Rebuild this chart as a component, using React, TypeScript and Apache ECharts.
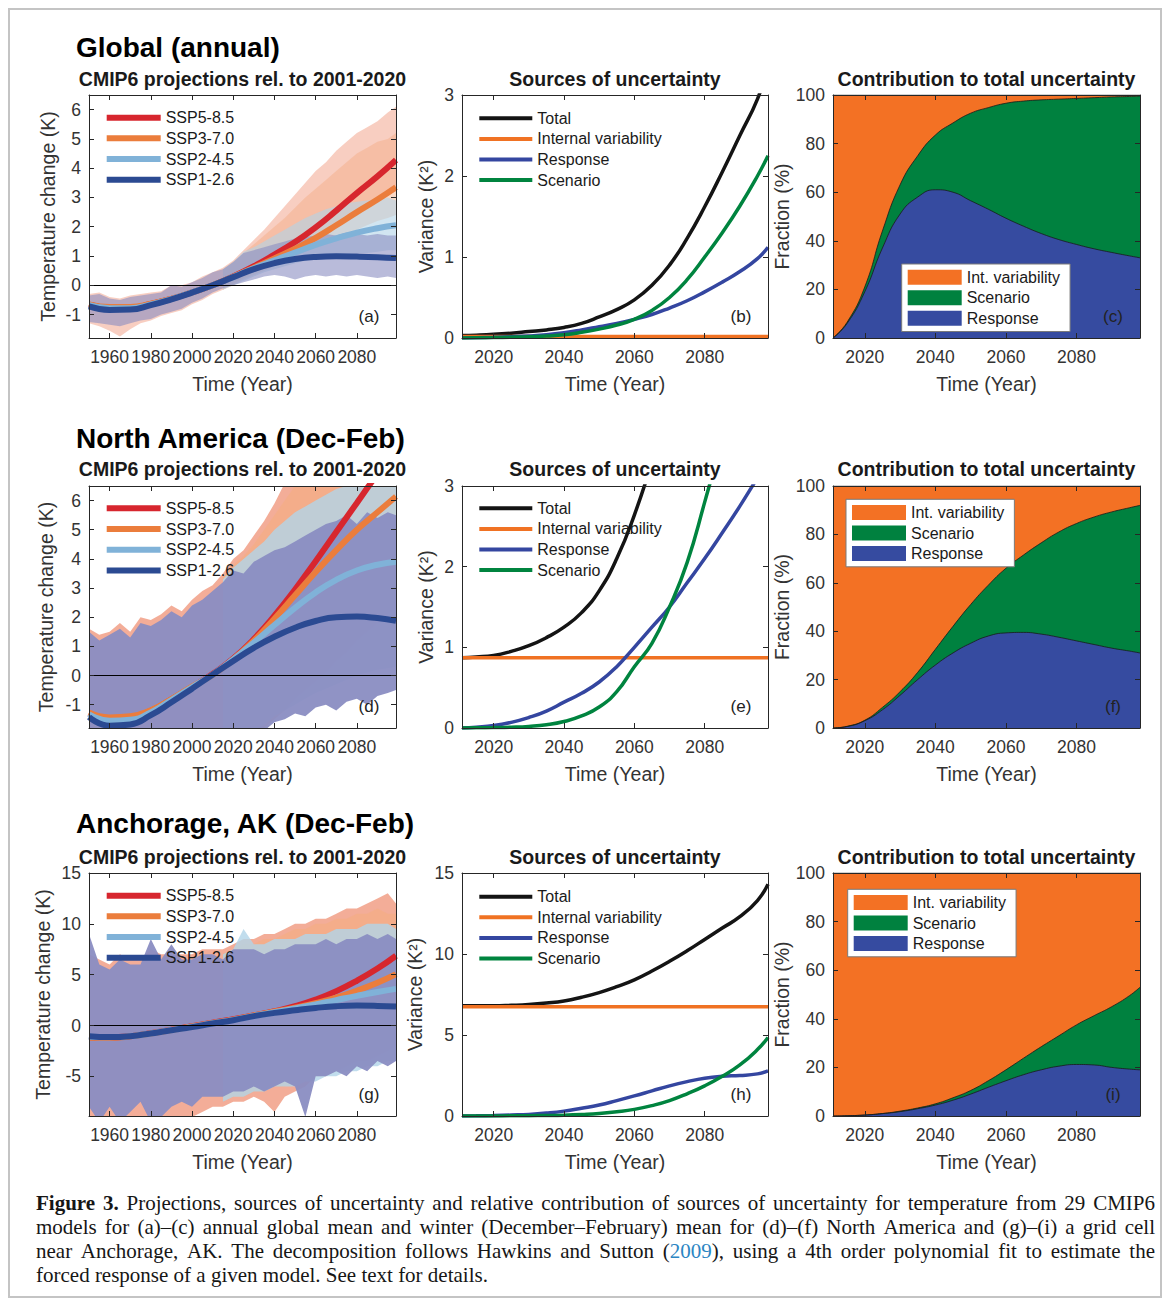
import React, { useEffect, useRef } from 'react';
import * as echarts from 'echarts';

// ---------------- Data ----------------
const ALL_YEARS = [1950, 1955, 1960, 1965, 1970, 1975, 1980, 1985, 1990, 1995, 2000, 2005, 2010, 2015, 2020, 2025, 2030, 2035, 2040, 2045, 2050, 2055, 2060, 2065, 2070, 2075, 2080, 2085, 2090, 2095, 2099];
const FUT_YEARS = [2015, 2020, 2025, 2030, 2035, 2040, 2045, 2050, 2055, 2060, 2065, 2070, 2075, 2080, 2085, 2090, 2095, 2099];
const FIT_YEARS = [1950, 1960, 1970, 1980, 1990, 2000, 2010, 2020, 2030, 2040, 2050, 2060, 2070, 2080, 2090, 2099];
const UNC_YEARS = [2011, 2015, 2020, 2025, 2030, 2035, 2040, 2045, 2050, 2055, 2060, 2065, 2070, 2075, 2080, 2085, 2090, 2095, 2098];

const SSP_NAMES = ['SSP5-8.5', 'SSP3-7.0', 'SSP2-4.5', 'SSP1-2.6'];
const UNC_NAMES = ['Total', 'Internal variability', 'Response', 'Scenario'];
const FRAC_NAMES = ['Int. variability', 'Scenario', 'Response'];
const ROW_TITLES = ['Global (annual)', 'North America (Dec-Feb)', 'Anchorage, AK (Dec-Feb)'];
const COL_TITLES = ['CMIP6 projections rel. to 2001-2020', 'Sources of uncertainty', 'Contribution to total uncertainty'];
const PANEL_TAGS = ['(a)', '(b)', '(c)', '(d)', '(e)', '(f)', '(g)', '(h)', '(i)'];
const X_NAME = 'Time (Year)';
const Y_NAMES = ['Temperature change (K)', 'Variance (K²)', 'Fraction (%)'];
const CAPTION_LINES = [
  'Figure 3. Projections, sources of uncertainty and relative contribution of sources of uncertainty for temperature from 29 CMIP6',
  'models for (a)–(c) annual global mean and winter (December–February) mean for (d)–(f) North America and (g)–(i) a grid cell',
  'near Anchorage, AK. The decomposition follows Hawkins and Sutton (2009), using a 4th order polynomial fit to estimate the',
  'forced response of a given model. See text for details.',
];
const CAPTION_BOLD_WORDS = 2; // "Figure 3."
const CAPTION_LINK = '2009';

// (a) Global annual: model spread envelopes
const A_SSP5_HI = [-0.3, -0.25, -0.4, -0.45, -0.35, -0.3, -0.25, -0.2, 0.0, 0.0, 0.1, 0.3, 0.45, 0.6, 0.85, 1.2, 1.55, 1.9, 2.3, 2.7, 3.1, 3.5, 3.9, 4.2, 4.6, 4.9, 5.2, 5.4, 5.6, 5.9, 6.1];
const A_SSP5_LO = [-1.3, -1.4, -1.55, -1.75, -1.5, -1.3, -1.2, -1.05, -0.95, -0.85, -0.65, -0.5, -0.3, -0.15, 0.05, 0.25, 0.45, 0.6, 0.8, 1.0, 1.2, 1.45, 1.7, 1.9, 2.1, 2.35, 2.55, 2.75, 2.9, 3.1, 3.2];
const A_SSP3_HI = [0.55, 0.8, 1.1, 1.4, 1.7, 2.0, 2.3, 2.65, 3.0, 3.3, 3.6, 3.9, 4.2, 4.5, 4.7, 4.9, 5.0, 5.2];
const A_SSP3_LO = [-0.15, 0.0, 0.2, 0.35, 0.5, 0.65, 0.8, 1.0, 1.15, 1.3, 1.45, 1.6, 1.75, 1.9, 2.05, 2.2, 2.3, 2.4];
const A_SSP2_HI = [0.55, 0.8, 1.15, 1.3, 1.5, 1.7, 1.9, 2.1, 2.3, 2.45, 2.6, 2.7, 2.8, 2.85, 2.9, 2.95, 3.0, 2.9];
const A_SSP2_LO = [-0.15, 0.0, 0.15, 0.3, 0.45, 0.55, 0.65, 0.75, 0.85, 0.9, 0.95, 1.0, 1.05, 1.1, 1.1, 1.15, 1.2, 1.2];
const A_SSP1_HI = [-0.35, -0.3, -0.45, -0.5, -0.4, -0.35, -0.3, -0.25, 0.0, -0.05, 0.1, 0.25, 0.45, 0.55, 0.8, 1.1, 1.2, 1.3, 1.4, 1.5, 1.6, 1.65, 1.7, 1.75, 1.7, 1.8, 1.75, 1.7, 1.75, 1.7, 1.7];
const A_SSP1_LO = [-1.25, -1.3, -1.35, -1.4, -1.3, -1.2, -1.15, -1.0, -0.9, -0.8, -0.6, -0.45, -0.25, -0.1, 0.0, 0.1, 0.2, 0.3, 0.35, 0.3, 0.2, 0.3, 0.35, 0.3, 0.35, 0.3, 0.35, 0.3, 0.25, 0.3, 0.25];
// (a) polynomial fits (thick lines)
const A_FIT_SSP5 = [-0.66, -0.76, -0.76, -0.64, -0.46, -0.24, 0.0, 0.3, 0.65, 1.05, 1.48, 1.98, 2.55, 3.15, 3.72, 4.28];
const A_FIT_SSP3 = [-0.65, -0.74, -0.74, -0.63, -0.46, -0.24, 0.0, 0.29, 0.6, 0.92, 1.25, 1.62, 2.05, 2.5, 2.93, 3.35];
const A_FIT_SSP2 = [-0.68, -0.78, -0.78, -0.65, -0.47, -0.24, 0.0, 0.28, 0.58, 0.85, 1.12, 1.38, 1.6, 1.8, 1.95, 2.05];
const A_FIT_SSP1 = [-0.72, -0.84, -0.83, -0.68, -0.48, -0.25, 0.0, 0.28, 0.55, 0.76, 0.9, 0.97, 0.99, 0.98, 0.96, 0.93];

// (d) North America DJF
const D_SSP5_HI = [1.6, 1.4, 1.5, 1.8, 1.5, 2.0, 1.9, 2.1, 2.4, 2.2, 2.6, 2.9, 3.1, 3.5, 4.0, 4.3, 4.8, 5.3, 5.9, 6.6, 7.2, 7.6, 8.0, 8.4, 8.8, 9.2, 9.6, 10.0, 10.4, 10.8, 11.0];
const D_SSP5_LO = [-2.6, -2.7, -2.6, -2.8, -2.6, -2.5, -2.7, -2.6, -2.5, -2.6, -2.5, -2.4, -2.5, -2.6, -2.5, -2.3, -2.0, -1.7, -1.3, -0.9, -0.5, -0.2, 0.2, 0.5, 0.9, 1.3, 1.6, 2.0, 2.3, 2.6, 2.8];
const D_SSP3_HI = [3.4, 3.8, 4.1, 4.5, 5.0, 5.5, 6.0, 6.5, 7.0, 7.4, 7.8, 8.2, 8.6, 9.0, 9.3, 9.6, 9.9, 10.1];
const D_SSP3_LO = [-2.6, -2.5, -2.3, -2.0, -1.8, -1.5, -1.2, -0.8, -0.5, -0.2, 0.1, 0.5, 0.8, 1.2, 1.5, 1.8, 2.1, 2.3];
const D_SSP2_HI = [3.3, 3.7, 4.0, 4.3, 4.6, 5.0, 5.3, 5.6, 5.8, 6.0, 6.2, 6.4, 6.5, 6.6, 6.7, 6.8, 6.8, 6.9];
const D_SSP2_LO = [-2.6, -2.5, -2.3, -2.0, -1.7, -1.4, -1.2, -1.0, -0.8, -0.6, -0.45, -0.3, -0.15, 0.0, 0.1, 0.2, 0.25, 0.3];
const D_SSP1_HI = [1.5, 1.2, 1.4, 1.6, 1.3, 1.8, 1.7, 1.9, 2.2, 2.0, 2.4, 2.6, 2.9, 3.2, 3.6, 3.5, 3.9, 4.1, 4.3, 4.4, 4.6, 4.8, 5.0, 5.2, 5.3, 5.5, 5.2, 5.6, 5.4, 5.6, 5.5];
const D_SSP1_LO = [-2.6, -2.6, -2.7, -2.6, -2.5, -2.6, -2.5, -2.4, -2.5, -2.4, -2.3, -2.3, -2.2, -2.2, -2.1, -2.0, -2.0, -1.9, -1.6, -1.5, -1.3, -1.4, -1.1, -1.0, -1.2, -0.9, -0.8, -1.0, -0.7, -0.6, -0.5];
const D_FIT_SSP5 = [-1.3, -1.48, -1.44, -1.21, -0.82, -0.4, 0.05, 0.58, 1.25, 2.05, 2.95, 3.92, 4.92, 5.92, 6.92, 7.8];
const D_FIT_SSP3 = [-1.27, -1.44, -1.4, -1.19, -0.81, -0.38, 0.02, 0.56, 1.2, 1.95, 2.75, 3.55, 4.3, 5.0, 5.6, 6.14];
const D_FIT_SSP2 = [-1.33, -1.55, -1.52, -1.27, -0.84, -0.4, 0.03, 0.55, 1.13, 1.73, 2.32, 2.85, 3.28, 3.6, 3.8, 3.9];
const D_FIT_SSP1 = [-1.42, -1.72, -1.68, -1.36, -0.92, -0.45, 0.03, 0.5, 0.95, 1.33, 1.64, 1.87, 2.0, 2.02, 1.97, 1.88];

// (g) Anchorage DJF
const G_SSP5_HI = [7.0, 6.5, 6.0, 7.0, 6.5, 6.5, 7.5, 7.0, 7.0, 7.0, 7.0, 7.5, 7.5, 7.5, 8.0, 8.5, 8.5, 9.0, 9.0, 9.5, 10.0, 10.0, 10.5, 10.5, 11.0, 11.5, 11.5, 12.0, 12.5, 13.0, 12.0];
const G_SSP5_LO = [-9.5, -10, -9.5, -10, -10, -9.5, -10, -9.5, -9.0, -9.5, -9.0, -8.5, -8.0, -8.0, -7.5, -7.5, -7.0, -7.5, -8.5, -7.0, -6.5, -6.0, -5.0, -4.5, -4.0, -3.5, -3.0, -2.5, -2.0, -1.5, -1.0];
const G_SSP3_HI = [7.0, 7.5, 8.0, 8.0, 8.5, 8.5, 9.0, 9.5, 9.5, 10.0, 10.0, 10.5, 10.5, 11.0, 11.0, 11.5, 11.0, 11.0];
const G_SSP3_LO = [-7.5, -7.0, -7.0, -6.5, -6.5, -6.0, -6.0, -5.5, -5.5, -5.0, -5.0, -4.5, -4.0, -3.5, -3.5, -3.0, -2.5, -2.0];
const G_SSP2_HI = [7.0, 7.5, 9.5, 8.0, 8.0, 8.5, 8.5, 8.5, 9.0, 9.0, 9.0, 9.5, 9.5, 9.5, 10.0, 10.0, 10.0, 9.5];
const G_SSP2_LO = [-7.5, -7.0, -7.0, -6.5, -6.5, -6.0, -6.0, -6.0, -5.5, -5.5, -5.0, -5.0, -4.5, -4.5, -4.0, -4.0, -3.5, -3.5];
const G_SSP1_HI = [9.0, 6.0, 5.5, 6.5, 6.0, 6.0, 8.5, 6.5, 8.0, 6.5, 6.5, 7.0, 7.0, 6.5, 7.5, 7.5, 7.5, 7.0, 7.5, 7.5, 8.0, 8.0, 8.0, 8.5, 8.0, 8.5, 8.5, 9.0, 8.5, 9.0, 8.5];
const G_SSP1_LO = [-8.0, -9.5, -8.0, -9.5, -8.5, -7.5, -9.5, -9.0, -8.0, -7.5, -8.0, -7.0, -7.0, -7.0, -6.5, -6.5, -6.0, -6.5, -6.0, -5.5, -6.0, -9.0, -5.0, -5.0, -4.5, -5.0, -4.0, -4.5, -3.5, -4.0, -3.5];
const G_FIT_SSP5 = [-1.15, -1.17, -1.05, -0.76, -0.42, -0.08, 0.27, 0.62, 1.0, 1.4, 1.9, 2.55, 3.38, 4.4, 5.6, 6.86];
const G_FIT_SSP3 = [-1.2, -1.2, -1.07, -0.78, -0.44, -0.1, 0.24, 0.58, 1.0, 1.38, 1.75, 2.2, 2.75, 3.42, 4.2, 5.05];
const G_FIT_SSP2 = [-1.1, -1.15, -1.05, -0.78, -0.45, -0.13, 0.22, 0.55, 0.95, 1.3, 1.68, 2.07, 2.5, 2.92, 3.3, 3.6];
const G_FIT_SSP1 = [-1.05, -1.14, -1.05, -0.78, -0.46, -0.16, 0.2, 0.52, 0.92, 1.24, 1.5, 1.73, 1.9, 1.96, 1.93, 1.86];

// (b) (e) (h) variance components
const B_TOTAL = [0.03, 0.035, 0.045, 0.06, 0.08, 0.1, 0.13, 0.18, 0.26, 0.35, 0.47, 0.65, 0.9, 1.23, 1.62, 2.05, 2.5, 2.95, 3.35];
const B_INTERNAL = [0.02, 0.02, 0.02, 0.02, 0.02, 0.02, 0.02, 0.02, 0.02, 0.02, 0.02, 0.02, 0.02, 0.02, 0.02, 0.02, 0.02, 0.02, 0.02];
const B_RESPONSE = [0, 0.003, 0.008, 0.015, 0.025, 0.04, 0.065, 0.1, 0.14, 0.18, 0.23, 0.29, 0.37, 0.46, 0.57, 0.69, 0.82, 0.98, 1.12];
const B_SCENARIO = [0, 0.002, 0.005, 0.01, 0.015, 0.025, 0.04, 0.07, 0.11, 0.16, 0.23, 0.34, 0.5, 0.72, 1.0, 1.3, 1.63, 2.0, 2.25];

const E_TOTAL = [0.87, 0.88, 0.9, 0.95, 1.02, 1.12, 1.25, 1.43, 1.7, 2.1, 2.64, 3.3, 4.1, 5.0, 6.0, 7.1, 8.3, 9.6, 10.4];
const E_INTERNAL = [0.87, 0.87, 0.87, 0.87, 0.87, 0.87, 0.87, 0.87, 0.87, 0.87, 0.87, 0.87, 0.87, 0.87, 0.87, 0.87, 0.87, 0.87, 0.87];
const E_RESPONSE = [0, 0.01, 0.03, 0.07, 0.13, 0.21, 0.32, 0.43, 0.57, 0.76, 1.0, 1.25, 1.5, 1.8, 2.1, 2.42, 2.75, 3.1, 3.3];
const E_SCENARIO = [0, 0.002, 0.005, 0.01, 0.02, 0.04, 0.08, 0.15, 0.26, 0.45, 0.76, 1.05, 1.5, 2.05, 2.8, 3.6, 4.5, 5.5, 6.1];

const H_TOTAL = [6.8, 6.8, 6.8, 6.83, 6.88, 6.97, 7.1, 7.33, 7.62, 7.98, 8.4, 8.95, 9.55, 10.2, 10.9, 11.6, 12.3, 13.3, 14.3];
const H_INTERNAL = [6.75, 6.75, 6.75, 6.75, 6.75, 6.75, 6.75, 6.75, 6.75, 6.75, 6.75, 6.75, 6.75, 6.75, 6.75, 6.75, 6.75, 6.75, 6.75];
const H_RESPONSE = [0, 0.01, 0.03, 0.06, 0.1, 0.18, 0.3, 0.48, 0.68, 0.95, 1.24, 1.55, 1.86, 2.12, 2.33, 2.45, 2.5, 2.6, 2.78];
const H_SCENARIO = [0, 0.002, 0.005, 0.01, 0.02, 0.03, 0.05, 0.09, 0.15, 0.26, 0.41, 0.64, 0.95, 1.37, 1.86, 2.45, 3.15, 4.1, 4.85];

// (c) (f) (i) fractional contributions (%)
const C_RESPONSE = [0, 6, 19, 37, 51, 58, 61, 60, 56.5, 53, 49.3, 46, 43, 40.5, 38.5, 36.7, 35.2, 33.8, 33];
const C_SCENARIO = [0, 0.5, 2, 7, 12, 17, 22.5, 28.5, 36, 41.8, 47.3, 51.5, 55, 57.8, 60.1, 62.2, 64, 65.6, 66.6];
const C_INTERNAL = [100, 93.5, 79, 56, 37, 25, 16.5, 11.5, 7.5, 5.2, 3.4, 2.5, 2, 1.7, 1.4, 1.1, 0.8, 0.6, 0.4];

const F_RESPONSE = [0, 0.6, 3, 7.5, 13.5, 20, 26, 31, 35, 38, 39.3, 39.5, 38.8, 37.5, 36, 34.5, 33, 31.8, 31];
const F_SCENARIO = [0, 0.1, 0.2, 1, 1.5, 3, 6.5, 11, 16, 21, 26.7, 32, 37.7, 43.5, 48.5, 52.7, 56.3, 59.2, 61];
const F_INTERNAL = [100, 99.3, 96.8, 91.5, 85, 77, 67.5, 58, 49, 41, 34, 28.5, 23.5, 19, 15.5, 12.8, 10.7, 9, 8];

const I_RESPONSE = [0, 0.1, 0.4, 1, 1.8, 3, 4.5, 6.5, 9, 11.8, 14.5, 17, 19, 20.5, 21.2, 21, 20, 19.3, 19];
const I_SCENARIO = [0, 0, 0, 0, 0.2, 0.3, 0.5, 1, 1.5, 2.7, 4.5, 6.8, 9.5, 12.5, 16.3, 20.3, 25, 30.2, 34];
const I_INTERNAL = [100, 99.9, 99.6, 99, 98, 96.7, 95, 92.5, 89.5, 85.5, 81, 76.2, 71.5, 67, 62.5, 58.7, 55, 50.5, 47];

// ---------------- Styles / layout ----------------
const SANS = "'Liberation Sans', Arial, Helvetica, sans-serif";
const SERIF_NAME = 'Liberation Serif';
const SERIF = "'Liberation Serif', 'Times New Roman', serif";
const AXIS_COLOR = '#262626';
const TEXT_COLOR = '#333333';
const FIT_COLORS = ['#d7262e', '#eb7d3c', '#80b2d8', '#2b4a92'];
const BAND_COLORS = ['#ee8a6c', '#f4ad86', '#b2d4e8', '#8a8dc2'];
const UNC_COLORS = ['#141414', '#f07223', '#3446a0', '#00843f'];
const FRAC_COLORS = ['#f37124', '#00813f', '#364ba0'];
const LINK_COLOR = '#2b86c3';

const COL_X = [89, 462, 833];
const COL_W = [307, 306, 307];
const ROW_Y = [95, 486, 873];
const ROW_H = [243, 242, 243];
const ROW_TITLE_Y = [47, 438, 823];
const SUB_Y = [79, 469, 857];
const CAP_LEFT = 36;
const CAP_RIGHT = 1155;
const CAP_TOP = 1203;
const CAP_LINE_H = 24;
const CAP_SIZE = 21;

function pairs(xs: number[], ys: number[]) {
  return xs.map((x, i) => [x, ys[i]]);
}
function addArr(a: number[], b: number[]) {
  return a.map((v, i) => +(v + b[i]).toFixed(4));
}
const ax = (gi: number) => ({ xAxisIndex: gi * 2, yAxisIndex: gi * 2 });

function bandSeries(gi: number, key: string, years: number[], lo: number[], hi: number[], color: string, opacity: number) {
  return {
    type: 'custom',
    ...ax(gi),
    name: key,
    clip: true,
    silent: true,
    z: 2,
    data: years.map((y, i) => [y, lo[i], hi[i]]),
    encode: { x: 0, y: [1, 2] },
    renderItem: (params: any, api: any) => {
      if (params.dataIndex !== 0) return null;
      const upper = years.map((y, i) => api.coord([y, hi[i]]));
      const lower = years.map((y, i) => api.coord([y, lo[i]])).reverse();
      return {
        type: 'polygon',
        shape: { points: upper.concat(lower) },
        style: { fill: color, opacity },
      };
    },
  };
}

function captionElements() {
  const els: any[] = [];
  let ctx: CanvasRenderingContext2D | null = null;
  try {
    ctx = document.createElement('canvas').getContext('2d');
  } catch (e) {
    ctx = null;
  }
  const measure = (t: string, bold: boolean) => {
    if (!ctx) return t.length * CAP_SIZE * 0.45;
    ctx.font = `${bold ? 'bold ' : ''}${CAP_SIZE}px "${SERIF_NAME}"`;
    return ctx.measureText(t).width;
  };
  CAPTION_LINES.forEach((line, li) => {
    const y = CAP_TOP + li * CAP_LINE_H;
    const words = line.split(' ');
    const bolds = words.map((_, wi) => li === 0 && wi < CAPTION_BOLD_WORDS);
    const widths = words.map((w, wi) => measure(w, bolds[wi]));
    const total = widths.reduce((s, v) => s + v, 0);
    const justify = li < CAPTION_LINES.length - 1;
    const gap = justify ? (CAP_RIGHT - CAP_LEFT - total) / (words.length - 1) : measure(' ', false);
    let x = CAP_LEFT;
    words.forEach((w, wi) => {
      let text = w;
      const rich: any = {};
      if (w.includes(CAPTION_LINK)) {
        text = w.replace(CAPTION_LINK, `{l|${CAPTION_LINK}}`);
        rich.l = { fontSize: CAP_SIZE, fontFamily: SERIF, fill: LINK_COLOR };
      }
      els.push({
        type: 'text', x, y, z: 100, silent: true,
        style: {
          text, rich, fontSize: CAP_SIZE, fontFamily: SERIF, fontWeight: bolds[wi] ? 'bold' : 'normal',
          fill: '#161616', align: 'left', verticalAlign: 'middle',
        },
      });
      x += widths[wi] + gap;
    });
  });
  return els;
}

function buildOption() {
  const grid: any[] = [];
  const xAxis: any[] = [];
  const yAxis: any[] = [];
  const series: any[] = [];
  const legend: any[] = [];
  const graphic: any[] = [];

  const lineStyle = { color: AXIS_COLOR, width: 1 };
  const labelBase = { fontSize: 17.5, color: TEXT_COLOR, fontFamily: SANS };
  const nameStyle = { fontSize: 19.5, color: TEXT_COLOR, fontFamily: SANS };
  const plain = (v: number) => String(v);

  const xSpecs = [
    { min: 1950, max: 2099, split: 7 },
    { min: 2011, max: 2098, split: 4 },
    { min: 2011, max: 2098, split: 4 },
  ];
  const ySpecs: any[][] = [
    [
      { min: -1.8, max: 6.5, split: 8, hideMin: true, hideMax: true, gap: 31 },
      { min: 0, max: 3, interval: 1, gap: 26 },
      { min: 0, max: 100, interval: 20, gap: 33.5 },
    ],
    [
      { min: -1.8, max: 6.5, split: 8, hideMin: true, hideMax: true, gap: 33 },
      { min: 0, max: 3, interval: 1, gap: 26 },
      { min: 0, max: 100, interval: 20, gap: 33.5 },
    ],
    [
      { min: -8.9, max: 15, split: 5, hideMin: true, hideMax: false, gap: 36 },
      { min: 0, max: 15, interval: 5, gap: 37.5 },
      { min: 0, max: 100, interval: 20, gap: 33.5 },
    ],
  ];

  for (let r = 0; r < 3; r++) {
    for (let c = 0; c < 3; c++) {
      const gi = r * 3 + c;
      grid.push({ left: COL_X[c], top: ROW_Y[r], width: COL_W[c], height: ROW_H[r], containLabel: false });
      const common = {
        type: 'value',
        gridIndex: gi,
        splitLine: { show: false },
        axisLine: { show: true, onZero: false, lineStyle },
        axisTick: { show: true, inside: true, length: 5, lineStyle },
        z: 10,
        silent: true,
      };
      const xs = xSpecs[c];
      const xBase = { ...common, min: xs.min, max: xs.max, splitNumber: xs.split };
      xAxis.push({
        ...xBase,
        position: 'bottom',
        axisLabel: { ...labelBase, margin: 10, showMinLabel: false, showMaxLabel: false, formatter: plain },
        name: X_NAME,
        nameLocation: 'middle',
        nameGap: 36,
        nameTextStyle: nameStyle,
      });
      xAxis.push({ ...xBase, position: 'top', axisLabel: { show: false } });
      const ys = ySpecs[r][c];
      const yBase: any = { ...common, min: ys.min, max: ys.max };
      if (ys.interval) yBase.interval = ys.interval;
      else yBase.splitNumber = ys.split;
      yAxis.push({
        ...yBase,
        position: 'left',
        axisLabel: {
          ...labelBase,
          margin: 8,
          formatter: plain,
          showMinLabel: ys.hideMin ? false : true,
          showMaxLabel: ys.hideMax ? false : true,
        },
        name: Y_NAMES[c],
        nameLocation: 'middle',
        nameGap: ys.gap,
        nameTextStyle: nameStyle,
      });
      yAxis.push({ ...yBase, position: 'right', axisLabel: { show: false } });
    }
  }

  // ---- projection panels (a, d, g)
  const proj = [
    {
      gi: 0,
      bands: [[ALL_YEARS, A_SSP5_LO, A_SSP5_HI], [FUT_YEARS, A_SSP3_LO, A_SSP3_HI], [FUT_YEARS, A_SSP2_LO, A_SSP2_HI], [ALL_YEARS, A_SSP1_LO, A_SSP1_HI]],
      fits: [A_FIT_SSP5, A_FIT_SSP3, A_FIT_SSP2, A_FIT_SSP1],
      opac: [0.42, 0.48, 0.6, 0.6],
    },
    {
      gi: 3,
      bands: [[ALL_YEARS, D_SSP5_LO, D_SSP5_HI], [FUT_YEARS, D_SSP3_LO, D_SSP3_HI], [FUT_YEARS, D_SSP2_LO, D_SSP2_HI], [ALL_YEARS, D_SSP1_LO, D_SSP1_HI]],
      fits: [D_FIT_SSP5, D_FIT_SSP3, D_FIT_SSP2, D_FIT_SSP1],
      opac: [0.7, 0.75, 0.8, 0.95],
    },
    {
      gi: 6,
      bands: [[ALL_YEARS, G_SSP5_LO, G_SSP5_HI], [FUT_YEARS, G_SSP3_LO, G_SSP3_HI], [FUT_YEARS, G_SSP2_LO, G_SSP2_HI], [ALL_YEARS, G_SSP1_LO, G_SSP1_HI]],
      fits: [G_FIT_SSP5, G_FIT_SSP3, G_FIT_SSP2, G_FIT_SSP1],
      opac: [0.7, 0.75, 0.8, 0.95],
    },
  ];
  proj.forEach((p) => {
    p.bands.forEach((b: any, k: number) => {
      const [years, lo, hi] = b;
      series.push(bandSeries(p.gi, `spread-${p.gi}-${k}`, years, lo, hi, BAND_COLORS[k], p.opac[k]));
    });
    p.fits.forEach((vals, k) => {
      const s: any = {
        type: 'line', ...ax(p.gi), name: SSP_NAMES[k], data: pairs(FIT_YEARS, vals), smooth: 0.5,
        symbol: 'none', silent: true, lineStyle: { color: FIT_COLORS[k], width: 6 }, itemStyle: { color: FIT_COLORS[k] }, z: 3,
      };
      if (k === 0) {
        s.markLine = {
          silent: true, symbol: ['none', 'none'], label: { show: false },
          lineStyle: { color: '#000', width: 1, type: 'solid', opacity: 1 },
          data: [{ yAxis: 0 }],
        };
      }
      series.push(s);
    });
  });

  // ---- uncertainty sources panels (b, e, h)
  const unc = [
    { gi: 1, vals: [B_TOTAL, B_INTERNAL, B_RESPONSE, B_SCENARIO] },
    { gi: 4, vals: [E_TOTAL, E_INTERNAL, E_RESPONSE, E_SCENARIO] },
    { gi: 7, vals: [H_TOTAL, H_INTERNAL, H_RESPONSE, H_SCENARIO] },
  ];
  unc.forEach((p) => {
    p.vals.forEach((vals, k) => {
      series.push({
        type: 'line', ...ax(p.gi), name: UNC_NAMES[k], data: pairs(UNC_YEARS, vals), smooth: 0.5,
        symbol: 'none', silent: true, lineStyle: { color: UNC_COLORS[k], width: 3.5 }, itemStyle: { color: UNC_COLORS[k] }, z: 3,
      });
    });
  });

  // ---- fractional contribution panels (c, f, i): cumulative layers drawn back to front
  const frac = [
    { gi: 2, vals: [C_INTERNAL, C_SCENARIO, C_RESPONSE] },
    { gi: 5, vals: [F_INTERNAL, F_SCENARIO, F_RESPONSE] },
    { gi: 8, vals: [I_INTERNAL, I_SCENARIO, I_RESPONSE] },
  ];
  frac.forEach((p) => {
    const [internal, scenario, response] = p.vals;
    const respTop = response;
    const scenTop = addArr(response, scenario);
    const intTop = addArr(scenTop, internal);
    const tops = [intTop, scenTop, respTop];
    [0, 1, 2].forEach((k) => {
      series.push({
        type: 'line', ...ax(p.gi), name: FRAC_NAMES[k], data: pairs(UNC_YEARS, tops[k]),
        smooth: 0.5, symbol: 'none', silent: true,
        lineStyle: { color: '#1a1a1a', width: 0.8 },
        areaStyle: { color: FRAC_COLORS[k], opacity: 1 },
        itemStyle: { color: FRAC_COLORS[k] }, z: 2,
      });
    });
  });

  // ---- legends
  const legText = { fontSize: 16, color: '#1a1a1a', fontFamily: SANS };
  const sspLegTops = [107.3, 498, 885.3];
  sspLegTops.forEach((top) => {
    legend.push({
      orient: 'vertical', left: 106.7, top, icon: 'rect', itemWidth: 54, itemHeight: 6, itemGap: 0, padding: 0,
      selectedMode: false, itemStyle: { borderWidth: 0 },
      textStyle: { ...legText, lineHeight: 20.7 },
      data: SSP_NAMES.map((n, k) => ({ name: n, itemStyle: { color: FIT_COLORS[k], borderWidth: 0 } })),
    });
  });
  const uncLegTops = [108, 498, 886.4];
  uncLegTops.forEach((top) => {
    legend.push({
      orient: 'vertical', left: 479.3, top, icon: 'rect', itemWidth: 53, itemHeight: 4, itemGap: 0, padding: 0,
      selectedMode: false, itemStyle: { borderWidth: 0 },
      textStyle: { ...legText, lineHeight: 20.6 },
      data: UNC_NAMES.map((n, k) => ({ name: n, itemStyle: { color: UNC_COLORS[k], borderWidth: 0 } })),
    });
  });
  const fracLegPos = [[901.7, 264], [846, 499.3], [847.7, 889.3]];
  fracLegPos.forEach(([left, top]) => {
    legend.push({
      orient: 'vertical', left, top, icon: 'rect', itemWidth: 54, itemHeight: 15, itemGap: 0, padding: [3, 10, 3, 6],
      backgroundColor: '#ffffff', borderColor: '#7a7a7a', borderWidth: 1,
      selectedMode: false, itemStyle: { borderWidth: 0 },
      textStyle: { ...legText, lineHeight: 20.5 },
      data: FRAC_NAMES.map((n, k) => ({ name: n, itemStyle: { color: FRAC_COLORS[k], borderWidth: 0 } })),
    });
  });

  // ---- graphic: frame, titles, panel tags, caption
  graphic.push({
    type: 'rect', silent: true, z: 0,
    shape: { x: 9, y: 9, width: 1152, height: 1288 },
    style: { fill: 'none', stroke: '#c4c4c4', lineWidth: 2 },
  });
  for (let r = 0; r < 3; r++) {
    graphic.push({
      type: 'text', x: 76, y: ROW_TITLE_Y[r], z: 100, silent: true,
      style: { text: ROW_TITLES[r], fontSize: 28, fontWeight: 'bold', fontFamily: SANS, fill: '#000', align: 'left', verticalAlign: 'middle' },
    });
    for (let c = 0; c < 3; c++) {
      const gi = r * 3 + c;
      graphic.push({
        type: 'text', x: COL_X[c] + COL_W[c] / 2, y: SUB_Y[r], z: 100, silent: true,
        style: { text: COL_TITLES[c], fontSize: 19.5, fontWeight: 'bold', fontFamily: SANS, fill: '#1a1a1a', align: 'center', verticalAlign: 'middle' },
      });
      graphic.push({
        type: 'text', x: COL_X[c] + COL_W[c] - 27, y: ROW_Y[r] + ROW_H[r] - 22, z: 100, silent: true,
        style: { text: PANEL_TAGS[gi], fontSize: 17, fontFamily: SANS, fill: '#222', align: 'center', verticalAlign: 'middle' },
      });
    }
  }
  captionElements().forEach((el) => graphic.push(el));

  return {
    animation: false,
    backgroundColor: '#ffffff',
    textStyle: { fontFamily: SANS },
    grid,
    xAxis,
    yAxis,
    legend,
    series,
    graphic: { elements: graphic },
  };
}

export default function App() {
  const ref = useRef<HTMLDivElement>(null);
  useEffect(() => {
    if (!ref.current) return;
    const chart = echarts.init(ref.current, null, { renderer: 'svg' });
    chart.setOption(buildOption() as any);
    return () => chart.dispose();
  }, []);
  return (
    <div
      ref={ref}
      style={{ position: 'absolute', left: 0, top: 0, width: 1171, height: 1303, background: '#fff' }}
    />
  );
}
